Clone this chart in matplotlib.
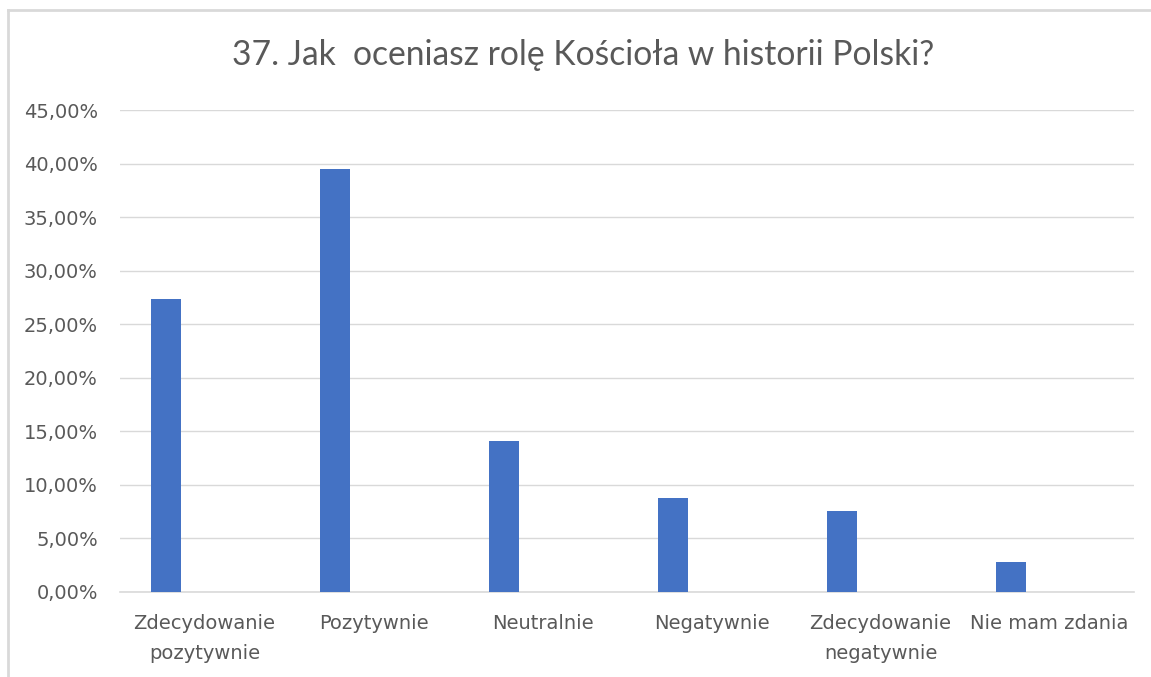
import numpy as np
import matplotlib.pyplot as plt
from matplotlib.ticker import FuncFormatter
from matplotlib.lines import Line2D

categories = ["Zdecydowanie\npozytywnie", "Pozytywnie", "Neutralnie",
              "Negatywnie", "Zdecydowanie\nnegatywnie", "Nie mam zdania"]
values = [0.2735, 0.3946, 0.1407, 0.0878, 0.0759, 0.0280]
title = "37. Jak  oceniasz rolę Kościoła w historii Polski?"

plt.rcParams['font.family'] = ['DejaVu Sans']
text_col = "#595959"
grid_col = "#d9d9d9"

fig = plt.figure(figsize=(11.51, 6.77), dpi=100)
ax = fig.add_axes([0.1043, 0.1256, 0.8809, 0.7119])

x = np.arange(len(categories))
ax.bar(x - 0.228, values, width=0.178, color="#4472C4", zorder=3)

ax.set_xlim(-0.5, len(categories) - 0.5)
ax.set_ylim(0, 0.45)
ax.set_yticks(np.arange(0, 0.451, 0.05))
ax.yaxis.set_major_formatter(FuncFormatter(lambda v, p: f"{v*100:.2f}%".replace(".", ",")))
ax.set_xticks(x)
ax.set_xticklabels(categories, linespacing=1.75)

ax.grid(axis="y", color=grid_col, linewidth=1.0, zorder=0)
ax.axhline(0, color=grid_col, linewidth=1.2, zorder=2, clip_on=False)
for s in ax.spines.values():
    s.set_visible(False)
ax.tick_params(axis="both", length=0, labelsize=14, labelcolor=text_col)
ax.tick_params(axis="y", pad=16)
ax.tick_params(axis="x", pad=16)

fig.text(583 / 1151, 1 - 55 / 677, title, ha="center", va="center", fontsize=24.2,
         color=text_col, family=["Lato", "DejaVu Sans"])

# chart frame (top and left edges visible)
fig.add_artist(Line2D([8 / 1151, 1], [1 - 10 / 677, 1 - 10 / 677],
                      transform=fig.transFigure, color=grid_col, linewidth=2))
fig.add_artist(Line2D([8 / 1151, 8 / 1151], [0, 1 - 10 / 677],
                      transform=fig.transFigure, color=grid_col, linewidth=2))

fig.savefig("out.png", dpi=100)
